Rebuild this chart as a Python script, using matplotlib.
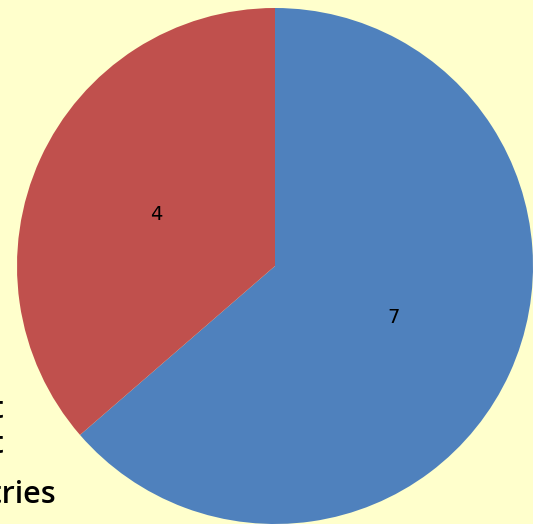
import matplotlib
matplotlib.use("Agg")
import matplotlib.pyplot as plt

values = [7, 4]
labels = ["7", "4"]
colors = ["#4F81BD", "#C0504D"]
side_texts = ["Count", "Count", "Countries"]

BG = "#FFFFCC"

fig = plt.figure(figsize=(5.33, 5.24), dpi=100, facecolor=BG)
ax = fig.add_axes([17 / 533, 0, 516 / 533, 516 / 524])
ax.set_facecolor(BG)

wedges, texts = ax.pie(values, labels=labels, colors=colors, startangle=90,
                       counterclock=False, labeldistance=0.48,
                       wedgeprops=dict(linewidth=0),
                       textprops=dict(fontsize=14, color="black", family="DejaVu Sans"))
ax.set_xlim(-1, 1)
ax.set_ylim(-1, 1)
ax.set_aspect("equal")
ax.axis("off")

# legend-like text cut off at the left edge
fig.text(4 / 533, 1 - 418 / 524, side_texts[0], ha="right", va="baseline",
         fontsize=22, family="Open Sans", weight="semibold", color="black")
fig.text(4 / 533, 1 - 453 / 524, side_texts[1], ha="right", va="baseline",
         fontsize=22, family="Open Sans", weight="semibold", color="black")
fig.text(56 / 533, 1 - 503 / 524, side_texts[2], ha="right", va="baseline",
         fontsize=22, family="Open Sans", weight="semibold", color="black")

fig.savefig("out.png", dpi=100, facecolor=BG)
